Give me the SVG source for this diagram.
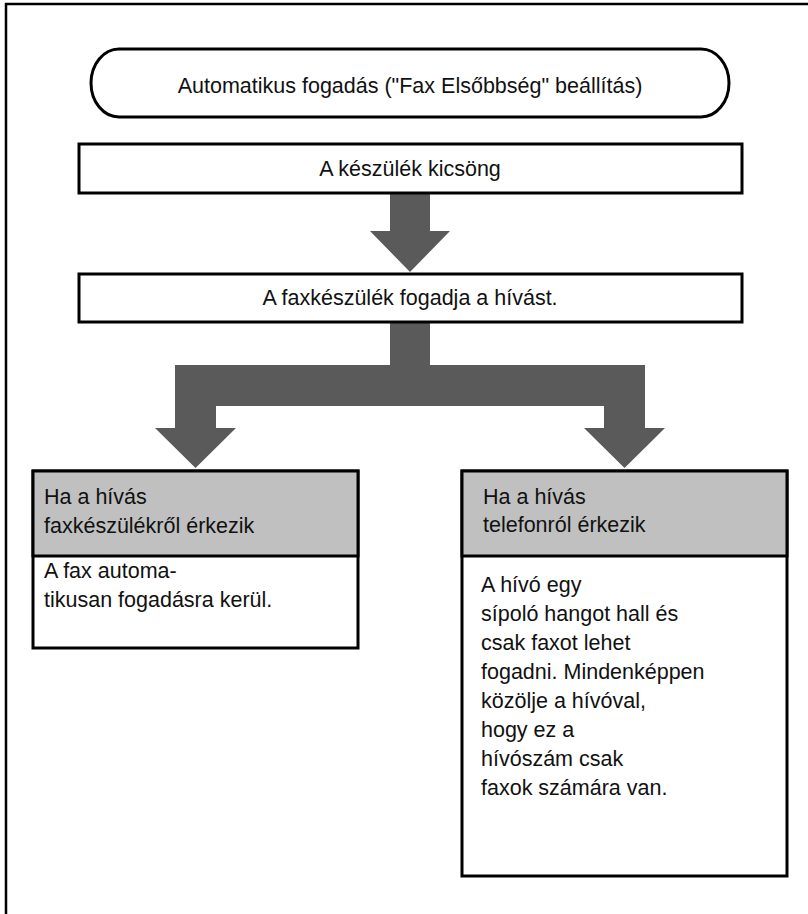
<svg xmlns="http://www.w3.org/2000/svg" width="808" height="914" viewBox="0 0 808 914">
<style>
  .t { font-family: "Liberation Sans", Arial, sans-serif; font-size: 21.5px; fill: #111; }
  .box { fill: #fff; stroke: #000; stroke-width: 3; }
  .hdr { fill: #c0c0c0; stroke: #000; stroke-width: 3; }
  .arr { fill: #5a5a5a; stroke: none; }
  .frame { fill: none; stroke: #000; stroke-width: 2.5; }
</style>
<rect width="808" height="914" fill="#fff"/>
<path class="frame" d="M6,914 L6,4 L808,4"/>

<g id="start">
  <rect class="box" x="91" y="49" width="638" height="68" rx="28" ry="34"/>
  <text class="t" x="410" y="93" text-anchor="middle">Automatikus fogadás ("Fax Elsőbbség" beállítás)</text>
</g>

<g id="connectors">
  <path class="arr" d="M390,193 L430,193 L430,231 L450,231 L410,272 L370,231 L390,231 Z"/>
  <path class="arr" d="M390,322 L430,322 L430,365 L645,365 L645,428 L665,428 L624.5,468 L584,428 L604,428 L604,406 L216,406 L216,428 L236,428 L195.5,468 L155,428 L175,428 L175,365 L390,365 Z"/>
</g>

<g id="ring">
  <rect class="box" x="79" y="144" width="663" height="49"/>
  <text class="t" x="410" y="176" text-anchor="middle">A készülék kicsöng</text>
</g>

<g id="answer">
  <rect class="box" x="79" y="274" width="663" height="48"/>
  <text class="t" x="410" y="305" text-anchor="middle">A faxkészülék fogadja a hívást.</text>
</g>

<g id="fax-call">
  <rect class="box" x="33" y="471" width="325" height="177"/>
  <rect class="hdr" x="33" y="471" width="325" height="85"/>
  <text class="t" x="44" y="504">Ha a hívás</text>
  <text class="t" x="44" y="533">faxkészülékről érkezik</text>
  <text class="t" x="44" y="578">A fax automa-</text>
  <text class="t" x="44" y="607">tikusan fogadásra kerül.</text>
</g>

<g id="phone-call">
  <rect class="box" x="462" y="471" width="325" height="405"/>
  <rect class="hdr" x="462" y="471" width="325" height="85"/>
  <text class="t" x="483" y="504">Ha a hívás</text>
  <text class="t" x="483" y="532">telefonról érkezik</text>
  <text class="t" x="481" y="592">A hívó egy</text>
  <text class="t" x="481" y="621">sípoló hangot hall és</text>
  <text class="t" x="481" y="650">csak faxot lehet</text>
  <text class="t" x="481" y="679">fogadni. Mindenképpen</text>
  <text class="t" x="481" y="708">közölje a hívóval,</text>
  <text class="t" x="481" y="737">hogy ez a</text>
  <text class="t" x="481" y="766">hívószám csak</text>
  <text class="t" x="481" y="795">faxok számára van.</text>
</g>
</svg>
